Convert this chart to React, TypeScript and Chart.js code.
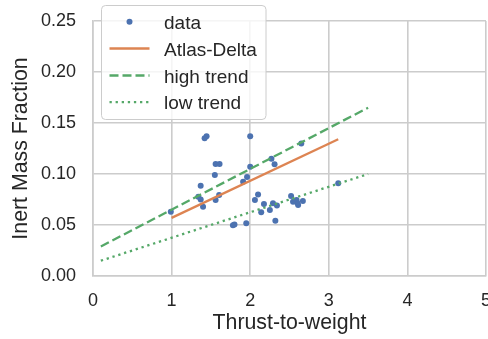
import React, { useEffect, useRef } from 'react';
import { Chart, registerables } from 'chart.js';

Chart.register(...registerables);

// ---- data ----
const dataX = [0.99, 1.42, 1.445, 2.0, 1.56, 1.61, 1.55, 1.37, 1.34, 1.37, 1.40, 1.56, 1.605, 2.0, 1.96, 1.91, 2.27, 2.31, 2.65, 3.12, 2.10, 2.06, 2.175, 2.14, 2.25, 2.29, 2.34, 2.32, 1.78, 1.80, 1.95, 2.52, 2.59, 2.61, 2.60, 2.67, 2.545];
const dataY = [0.063, 0.135, 0.137, 0.137, 0.1098, 0.1098, 0.099, 0.0885, 0.0778, 0.075, 0.068, 0.0745, 0.0794, 0.107, 0.097, 0.0925, 0.115, 0.1095, 0.130, 0.091, 0.080, 0.0745, 0.0706, 0.0625, 0.0647, 0.0713, 0.069, 0.0542, 0.0497, 0.0505, 0.0516, 0.0784, 0.0745, 0.0696, 0.0715, 0.0735, 0.0729];

const atlasX = [1.0, 3.12];
const atlasY = [0.057, 0.134];
const highX = [0.1, 3.5];
const highY = [0.029, 0.165];
const lowX = [0.1, 3.5];
const lowY = [0.015, 0.1];

const xTickValues = [0, 1, 2, 3, 4, 5];
const yTickValues = [0, 0.05, 0.1, 0.15, 0.2, 0.25];

const legendLabels = ['data', 'Atlas-Delta', 'high trend', 'low trend'];

const xTitle = 'Thrust-to-weight';
const yTitle = 'Inert Mass Fraction';

// ---- styles ----
const BLUE = '#4c72b0';
const ORANGE = '#dd8452';
const GREEN = '#55a868';
const GRID = '#cccccc';
const TEXT = '#262626';
const FONT = '"Liberation Sans", Arial, sans-serif';

const zip = (xs: number[], ys: number[]) => xs.map((x, i) => ({ x, y: ys[i] }));

const legendPlugin = {
  id: 'customLegend',
  afterDraw(chart: any) {
    const ctx = chart.ctx as CanvasRenderingContext2D;
    ctx.save();
    const x0 = 101.5, y0 = 5.5, w = 164.5, h = 114, r = 4;
    ctx.beginPath();
    ctx.moveTo(x0 + r, y0);
    ctx.lineTo(x0 + w - r, y0);
    ctx.arcTo(x0 + w, y0, x0 + w, y0 + r, r);
    ctx.lineTo(x0 + w, y0 + h - r);
    ctx.arcTo(x0 + w, y0 + h, x0 + w - r, y0 + h, r);
    ctx.lineTo(x0 + r, y0 + h);
    ctx.arcTo(x0, y0 + h, x0, y0 + h - r, r);
    ctx.lineTo(x0, y0 + r);
    ctx.arcTo(x0, y0, x0 + r, y0, r);
    ctx.closePath();
    ctx.fillStyle = 'rgba(255,255,255,0.8)';
    ctx.fill();
    ctx.strokeStyle = GRID;
    ctx.lineWidth = 1;
    ctx.stroke();

    const hx0 = 109.5, hx1 = 149.5, tx = 164;
    const rows = [21.7, 48.5, 75.5, 102.2];
    ctx.font = `19px ${FONT}`;
    ctx.fillStyle = TEXT;
    ctx.textBaseline = 'alphabetic';
    ctx.textAlign = 'left';
    legendLabels.forEach((lab, i) => {
      const cy = rows[i];
      ctx.save();
      if (i === 0) {
        ctx.fillStyle = BLUE;
        ctx.beginPath();
        ctx.arc((hx0 + hx1) / 2, cy, 3, 0, Math.PI * 2);
        ctx.fill();
      } else {
        ctx.beginPath();
        ctx.lineWidth = 2.3;
        ctx.lineCap = 'butt';
        if (i === 1) { ctx.strokeStyle = ORANGE; ctx.setLineDash([]); }
        if (i === 2) { ctx.strokeStyle = GREEN; ctx.setLineDash([9, 4]); }
        if (i === 3) { ctx.strokeStyle = GREEN; ctx.setLineDash([2.3, 3.8]); }
        ctx.moveTo(hx0, cy);
        ctx.lineTo(hx1, cy);
        ctx.stroke();
      }
      ctx.restore();
      ctx.fillStyle = TEXT;
      ctx.fillText(lab, tx, cy + 7);
    });
    ctx.restore();
  },
};

export default function App() {
  const ref = useRef<HTMLCanvasElement>(null);
  useEffect(() => {
    if (!ref.current) return;
    const chart = new Chart(ref.current, {
      type: 'scatter',
      data: {
        datasets: [
          {
            label: legendLabels[0],
            data: zip(dataX, dataY),
            backgroundColor: BLUE,
            borderColor: BLUE,
            borderWidth: 0,
            pointRadius: 3,
            order: 4,
          },
          {
            type: 'line',
            label: legendLabels[1],
            data: zip(atlasX, atlasY),
            borderColor: ORANGE,
            borderWidth: 2.3,
            pointRadius: 0,
            showLine: true,
            fill: false,
            order: 3,
          },
          {
            type: 'line',
            label: legendLabels[2],
            data: zip(highX, highY),
            borderColor: GREEN,
            borderWidth: 2.3,
            borderDash: [9, 4],
            pointRadius: 0,
            showLine: true,
            fill: false,
            order: 2,
          },
          {
            type: 'line',
            label: legendLabels[3],
            data: zip(lowX, lowY),
            borderColor: GREEN,
            borderWidth: 2.3,
            borderDash: [2.3, 3.8],
            pointRadius: 0,
            showLine: true,
            fill: false,
            order: 1,
          },
        ],
      } as any,
      options: {
        responsive: false,
        animation: false,
        devicePixelRatio: 1,
        layout: { padding: { top: 21, right: 14, left: 0, bottom: 0 } },
        plugins: { legend: { display: false }, tooltip: { enabled: false } },
        scales: {
          x: {
            type: 'linear',
            min: xTickValues[0],
            max: xTickValues[xTickValues.length - 1],
            afterBuildTicks: (s: any) => { s.ticks = xTickValues.map((v) => ({ value: v })); },
            ticks: {
              callback: (v: any) => String(v),
              color: TEXT,
              font: { family: FONT, size: 18 },
              padding: 14,
              maxRotation: 0,
              autoSkip: false,
            },
            grid: { color: GRID, lineWidth: 1.6, drawTicks: false },
            border: { display: true, color: GRID, width: 1.6 },
            title: {
              display: true,
              text: xTitle,
              color: TEXT,
              font: { family: FONT, size: 21.3 },
              padding: { top: 0, bottom: 3 },
            },
            afterFit: (s: any) => {
              s.height = 63;
              s.paddingLeft = 0; s.paddingRight = 0; s.paddingTop = 0; s.paddingBottom = 0;
            },
          },
          y: {
            type: 'linear',
            min: yTickValues[0],
            max: yTickValues[yTickValues.length - 1],
            afterBuildTicks: (s: any) => { s.ticks = yTickValues.map((v) => ({ value: v })); },
            ticks: {
              callback: (v: any) => Number(v).toFixed(2),
              color: TEXT,
              font: { family: FONT, size: 18 },
              padding: 17,
              autoSkip: false,
            },
            grid: { color: GRID, lineWidth: 1.6, drawTicks: false },
            border: { display: true, color: GRID, width: 1.6 },
            title: {
              display: true,
              text: yTitle,
              color: TEXT,
              font: { family: FONT, size: 21.3 },
              padding: { top: 8.5, bottom: 0 },
            },
            afterFit: (s: any) => {
              s.width = 93;
              s.paddingLeft = 0; s.paddingRight = 0; s.paddingTop = 0; s.paddingBottom = 0;
            },
          },
        },
      } as any,
      plugins: [legendPlugin],
    });
    return () => chart.destroy();
  }, []);

  return (
    <div style={{ position: 'absolute', left: 0, top: 0, width: 488, height: 339, overflow: 'hidden', background: '#ffffff' }}>
      <canvas ref={ref} width={500} height={339} style={{ display: 'block' }} />
    </div>
  );
}
